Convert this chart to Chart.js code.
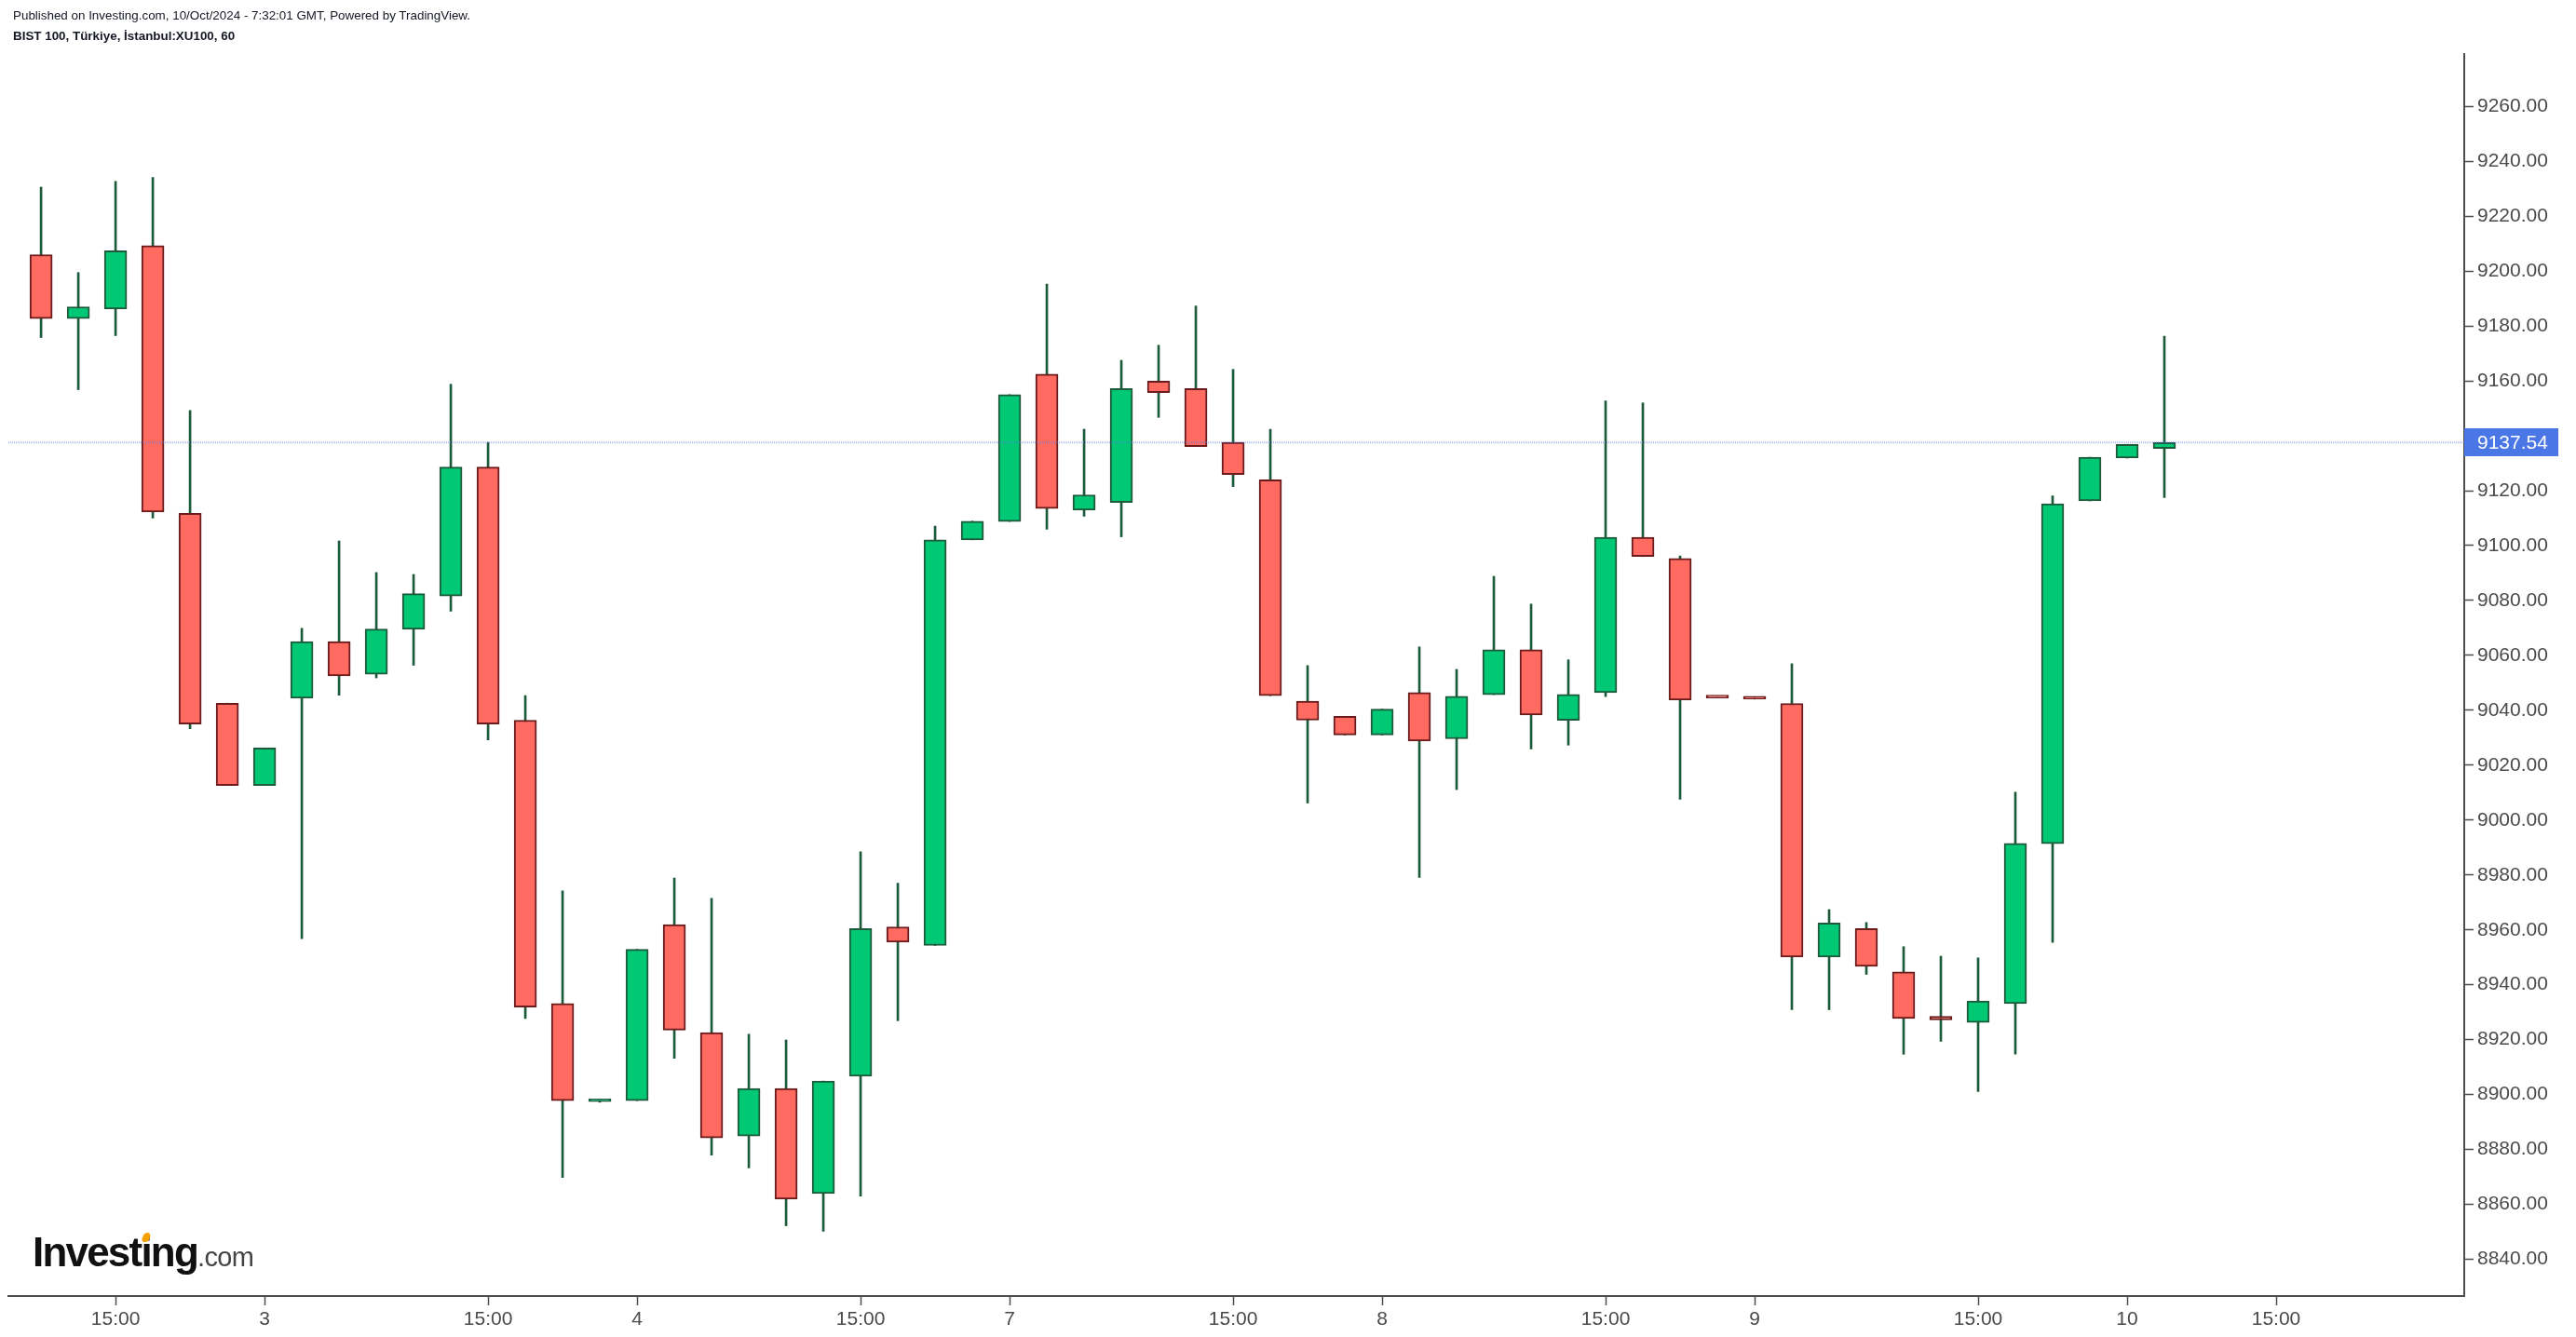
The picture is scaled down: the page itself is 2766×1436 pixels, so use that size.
<!DOCTYPE html>
<html>
<head>
<meta charset="utf-8">
<script src="https://cdn.jsdelivr.net/npm/chart.js@4.4.1/dist/chart.umd.min.js"></script>
<style>
html,body{margin:0;padding:0;background:#ffffff;}
#wrap{position:relative;width:2766px;height:1436px;overflow:hidden;background:#ffffff;}
#c{position:absolute;left:0;top:0;}
.hdr{position:absolute;left:14px;font-family:'Liberation Sans',Arial,sans-serif;font-size:13.4px;line-height:13px;color:#131722;white-space:nowrap;}
#h1{top:10px;}
#h2{top:32px;font-weight:bold;}
#logo{position:absolute;left:35px;top:1323px;font-family:'Liberation Sans',Arial,sans-serif;white-space:nowrap;line-height:44px;}
#logo .inv{font-size:44px;font-weight:bold;color:#111;letter-spacing:-1.8px;}
#logo .com{font-size:29px;color:#444;letter-spacing:-0.6px;}
#ii{position:relative;}
#ii::after{content:"";position:absolute;left:2px;top:4px;width:8px;height:10px;background:#f5a200;border-radius:55% 55% 45% 45%;transform:skewX(-18deg);}
</style>
</head>
<body>
<div id="wrap">
  <canvas id="c"></canvas>
  <div class="hdr" id="h1">Published on Investing.com, 10/Oct/2024 - 7:32:01 GMT, Powered by TradingView.</div>
  <div class="hdr" id="h2">BIST 100, Türkiye, İstanbul:XU100, 60</div>
  <div id="logo"><span class="inv">Invest<span id="ii">i</span>ng</span><span class="com">.com</span></div>
</div>
<script>
// ---- Data (hourly candles, XU100) ----
const candleLabels = [
  '2 Oct 13:00','2 Oct 14:00','2 Oct 15:00','2 Oct 16:00','2 Oct 17:00','2 Oct 18:00',
  '3 Oct 09:00','3 Oct 10:00','3 Oct 11:00','3 Oct 12:00','3 Oct 13:00','3 Oct 14:00','3 Oct 15:00','3 Oct 16:00','3 Oct 17:00','3 Oct 18:00',
  '4 Oct 09:00','4 Oct 10:00','4 Oct 11:00','4 Oct 12:00','4 Oct 13:00','4 Oct 14:00','4 Oct 15:00','4 Oct 16:00','4 Oct 17:00','4 Oct 18:00',
  '7 Oct 09:00','7 Oct 10:00','7 Oct 11:00','7 Oct 12:00','7 Oct 13:00','7 Oct 14:00','7 Oct 15:00','7 Oct 16:00','7 Oct 17:00','7 Oct 18:00',
  '8 Oct 09:00','8 Oct 10:00','8 Oct 11:00','8 Oct 12:00','8 Oct 13:00','8 Oct 14:00','8 Oct 15:00','8 Oct 16:00','8 Oct 17:00','8 Oct 18:00',
  '9 Oct 09:00','9 Oct 10:00','9 Oct 11:00','9 Oct 12:00','9 Oct 13:00','9 Oct 14:00','9 Oct 15:00','9 Oct 16:00','9 Oct 17:00','9 Oct 18:00',
  '10 Oct 09:00','10 Oct 10:00'
];
const opens = [
  9206.0, 9182.7, 9186.2, 9209.3, 9111.8, 9042.6,
  9012.6, 9044.4, 9065.0, 9053.1, 9069.5, 9081.6, 9128.6, 9036.4, 8933.2, 8897.4,
  8897.8, 8961.9, 8922.6, 8884.9, 8902.2, 8863.9, 8906.7, 8961.1, 8954.3, 9102.1,
  9108.8, 9162.5, 9112.9, 9115.7, 9159.9, 9157.2, 9137.6, 9124.0, 9043.3, 9037.8,
  9031.0, 9046.5, 9029.6, 9045.7, 9062.1, 9036.3, 9046.4, 9103.0, 9095.3, 9044.7,
  9044.8, 9042.5, 8950.1, 8960.5, 8944.7, 8928.5, 8926.3, 8933.1, 8991.4, 9116.3,
  9131.9, 9135.4
];
const highs = [
  9230.6, 9199.5, 9232.7, 9234.1, 9149.2, 9042.6,
  9026.3, 9069.9, 9101.7, 9090.2, 9089.5, 9158.8, 9137.6, 9045.4, 8974.2, 8897.8,
  8952.9, 8978.9, 8971.5, 8922.0, 8919.9, 8904.9, 8988.5, 8977.0, 9107.1, 9108.9,
  9155.0, 9195.3, 9142.4, 9167.5, 9173.0, 9187.3, 9164.2, 9142.4, 9056.3, 9037.8,
  9040.4, 9063.1, 9054.9, 9088.8, 9078.7, 9058.4, 9152.7, 9152.0, 9096.2, 9044.7,
  9044.8, 9057.0, 8967.4, 8962.7, 8953.9, 8950.4, 8949.8, 9010.2, 9118.1, 9132.2,
  9136.9, 9176.3
];
const lows = [
  9175.8, 9156.8, 9176.5, 9110.0, 9033.3, 9012.6,
  9012.6, 8956.8, 9045.5, 9051.8, 9056.4, 9076.1, 9029.2, 8927.7, 8869.8, 8897.2,
  8897.8, 8913.2, 8877.9, 8873.3, 8852.2, 8850.2, 8863.0, 8926.9, 8954.3, 9102.1,
  9108.8, 9106.0, 9110.7, 9103.2, 9146.7, 9136.1, 9121.5, 9045.3, 9006.2, 9031.0,
  9031.0, 8979.1, 9011.1, 9045.7, 9025.9, 9027.3, 9045.0, 9096.0, 9007.6, 9044.5,
  9044.1, 8930.9, 8930.9, 8943.8, 8914.7, 8919.4, 8901.1, 8914.7, 8955.4, 9116.3,
  9131.9, 9117.5
];
const closes = [
  9182.7, 9187.0, 9207.4, 9112.2, 9035.0, 9012.6,
  9026.3, 9065.0, 9052.5, 9069.6, 9082.5, 9128.6, 9035.0, 8931.9, 8897.8, 8897.6,
  8952.9, 8923.5, 8884.2, 8902.2, 8861.9, 8904.9, 8960.5, 8955.5, 9102.1, 9108.9,
  9155.0, 9113.5, 9118.5, 9157.2, 9155.7, 9136.1, 9125.9, 9045.3, 9036.4, 9031.0,
  9040.4, 9028.8, 9045.1, 9062.1, 9038.3, 9045.8, 9103.0, 9096.0, 9043.7, 9044.5,
  9044.1, 8950.1, 8962.5, 8946.7, 8927.7, 8927.2, 8934.1, 8991.5, 9115.2, 9132.2,
  9136.9, 9137.54
];
const xTickPositions = [2, 6, 12, 16, 22, 26, 32, 36, 42, 46, 52, 56, 60];
const xTickLabels = ['15:00', '3', '15:00', '4', '15:00', '7', '15:00', '8', '15:00', '9', '15:00', '10', '15:00'];
const yTickValues = [8840, 8860, 8880, 8900, 8920, 8940, 8960, 8980, 9000, 9020, 9040, 9060, 9080, 9100, 9120, 9160, 9180, 9200, 9220, 9240, 9260];
const yTickLabels = ['8840.00','8860.00','8880.00','8900.00','8920.00','8940.00','8960.00','8980.00','9000.00','9020.00','9040.00','9060.00','9080.00','9100.00','9120.00','9160.00','9180.00','9200.00','9220.00','9240.00','9260.00'];
const lastPrice = 9137.54;
const lastPriceLabel = '9137.54';

// ---- Styles ----
const UP_FILL = '#00c874', UP_LINE = '#1d5a3b';
const DN_FILL = '#ff6a61', DN_LINE = '#6b1b1b';
const WICK = '#1d5a3b';
const AXIS = '#4d4d4d', TEXT = '#4a4a4a';
const PRICE_BLUE = '#4a76e6';

const isUp = closes.map((c, i) => c >= opens[i]);
const bodyData = opens.map((o, i) => ({ x: i, y: [o, closes[i]] }));
const wickData = lows.map((l, i) => ({ x: i, y: [l, highs[i]] }));

Chart.defaults.font.family = "'Liberation Sans', Arial, sans-serif";
Chart.defaults.font.size = 21;
Chart.defaults.color = TEXT;

const priceLinePlugin = {
  id: 'priceLine',
  afterDatasetsDraw(chart) {
    const { ctx, chartArea } = chart;
    const y = chart.scales.y.getPixelForValue(lastPrice);
    ctx.save();
    ctx.strokeStyle = 'rgba(90,120,235,0.5)';
    ctx.lineWidth = 2;
    ctx.setLineDash([1, 1]);
    ctx.beginPath();
    ctx.moveTo(chartArea.left, y);
    ctx.lineTo(chartArea.right, y);
    ctx.stroke();
    ctx.restore();
  },
  afterDraw(chart) {
    const { ctx, chartArea } = chart;
    const y = chart.scales.y.getPixelForValue(lastPrice);
    ctx.save();
    ctx.fillStyle = PRICE_BLUE;
    ctx.fillRect(chartArea.right, Math.round(y) - 15, 101, 30);
    ctx.fillStyle = '#ffffff';
    ctx.font = "21px 'Liberation Sans', Arial, sans-serif";
    ctx.textBaseline = 'middle';
    ctx.textAlign = 'left';
    ctx.fillText(lastPriceLabel, chartArea.right + 14, Math.round(y) + 1);
    ctx.restore();
  }
};

const canvas = document.getElementById('c');
canvas.width = 2766; canvas.height = 1436;
canvas.style.width = '2766px'; canvas.style.height = '1436px';

new Chart(canvas, {
  type: 'bar',
  data: {
    labels: candleLabels,
    datasets: [
      {
        label: 'body',
        data: bodyData,
        grouped: false,
        barThickness: 24,
        minBarLength: 3,
        borderWidth: 2,
        borderSkipped: false,
        backgroundColor: isUp.map(u => u ? UP_FILL : DN_FILL),
        borderColor: isUp.map(u => u ? UP_LINE : DN_LINE)
      },
      {
        label: 'wick',
        data: wickData,
        grouped: false,
        barThickness: 2,
        borderWidth: 0,
        backgroundColor: WICK
      }
    ]
  },
  options: {
    responsive: false,
    animation: false,
    devicePixelRatio: 1,
    layout: { padding: { left: 9, top: 58, right: 0, bottom: 0 } },
    plugins: { legend: { display: false }, tooltip: { enabled: false } },
    events: [],
    scales: {
      x: {
        type: 'linear',
        position: 'bottom',
        min: -0.8775,
        max: 65.05,
        offset: false,
        grid: { display: true, offset: false, drawOnChartArea: false, drawTicks: true, tickLength: 10, tickColor: AXIS, tickWidth: 1.5 },
        border: { display: true, color: AXIS, width: 2 },
        afterBuildTicks: (scale) => { scale.ticks = xTickPositions.map(v => ({ value: v })); },
        afterFit: (scale) => { scale.height = 44; },
        ticks: {
          autoSkip: false, maxRotation: 0, minRotation: 0, padding: 3, color: TEXT,
          font: { size: 21 },
          callback: (value) => { const k = xTickPositions.indexOf(value); return k >= 0 ? xTickLabels[k] : ''; }
        }
      },
      y: {
        type: 'linear',
        position: 'right',
        min: 8826.6,
        max: 9279.1,
        grid: { display: true, drawOnChartArea: false, drawTicks: true, tickLength: 10, tickColor: AXIS, tickWidth: 1.5 },
        border: { display: true, color: AXIS, width: 2 },
        afterBuildTicks: (scale) => { scale.ticks = yTickValues.map(v => ({ value: v })); },
        afterFit: (scale) => { scale.width = 120; },
        ticks: {
          autoSkip: false, padding: 4, color: TEXT,
          font: { size: 21 },
          callback: (value) => { const k = yTickValues.indexOf(value); return k >= 0 ? yTickLabels[k] : ''; }
        }
      }
    }
  },
  plugins: [priceLinePlugin]
});
</script>
</body>
</html>
